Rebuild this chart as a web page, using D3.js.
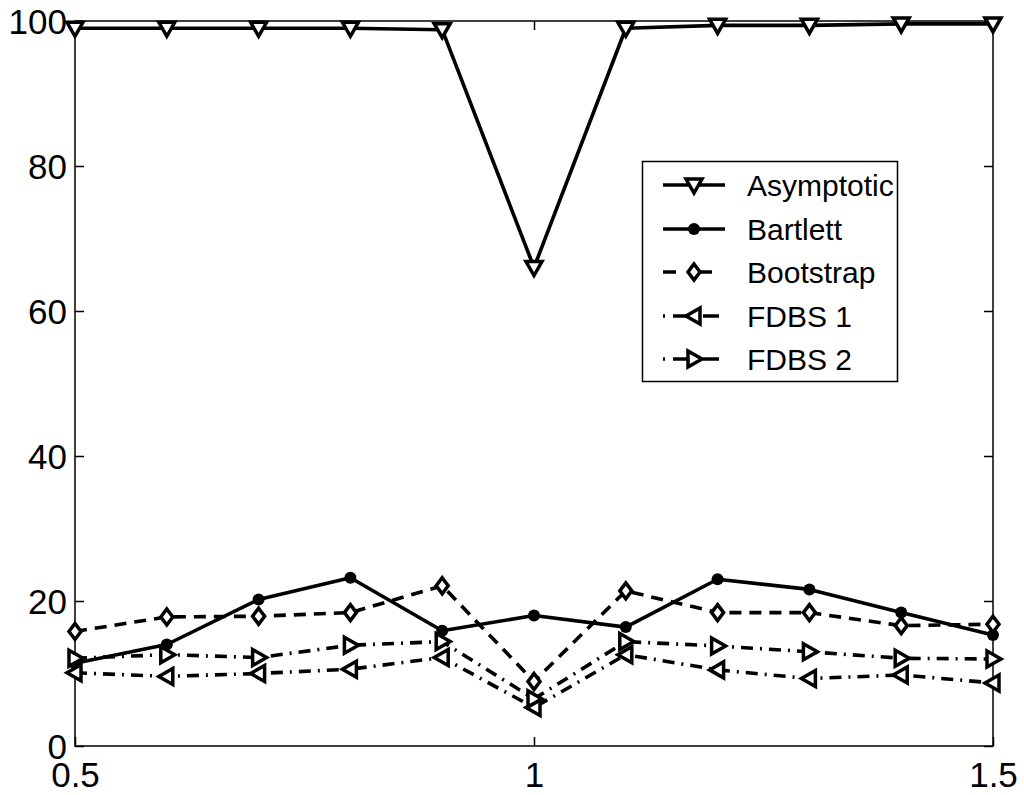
<!DOCTYPE html>
<html>
<head>
<meta charset="utf-8">
<script src="https://cdn.jsdelivr.net/npm/d3@7"></script>
<style>
html,body{margin:0;padding:0;background:#fff;}
svg{display:block;font-family:"Liberation Sans",Arial,Helvetica,sans-serif;}
</style>
</head>
<body>
<svg id="chart" width="1024" height="795"></svg>
<script>
const xValues = [0.5,0.6,0.7,0.8,0.9,1.0,1.1,1.2,1.3,1.4,1.5];
const asymptotic = [99.0,99.0,99.0,99.0,98.8,66.0,99.0,99.4,99.4,99.6,99.6];
const bartlett   = [11.4,14.0,20.2,23.2,15.9,18.0,16.4,23.0,21.6,18.4,15.3];
const bootstrap  = [15.8,17.8,17.9,18.4,22.1,8.9,21.4,18.4,18.4,16.6,16.8];
const fdbs1      = [10.1,9.6,10.0,10.6,12.2,5.3,12.6,10.5,9.3,9.8,8.7];
const fdbs2      = [12.1,12.6,12.2,13.9,14.4,6.5,14.4,13.8,13.0,12.1,12.0];
const seriesNames = ["Asymptotic","Bartlett","Bootstrap","FDBS 1","FDBS 2"];
const xTicks = [0.5,1,1.5];
const yTicks = [0,20,40,60,80,100];

const svg = d3.select("#chart");
const L = 75, R = 993, T = 21, B = 746;
const x = d3.scaleLinear().domain([0.5,1.5]).range([L,R]);
const y = d3.scaleLinear().domain([0,100]).range([B,T]);

const markers = {
  down:  "M-8,-6L8,-6L0,8Z",
  left:  "M6,-8L6,8L-8,0Z",
  right: "M-6,-8L-6,8L8,0Z",
  diamond: "M0,-8L6,0L0,8L-6,0Z"
};

const series = [
  {name: seriesNames[0], values: asymptotic, dash: null, marker: "down"},
  {name: seriesNames[1], values: bartlett, dash: null, marker: "circle"},
  {name: seriesNames[2], values: bootstrap, dash: "12,8", marker: "diamond"},
  {name: seriesNames[3], values: fdbs1, dash: "12,7,2,7", marker: "left"},
  {name: seriesNames[4], values: fdbs2, dash: "12,7,2,7", marker: "right"}
];

// frame
svg.append("rect").attr("x",L).attr("y",T).attr("width",R-L).attr("height",B-T)
  .attr("fill","none").attr("stroke","#000").attr("stroke-width",1.5);

// axes with inward ticks
const xAxisB = d3.axisBottom(x).tickValues(xTicks).tickSizeInner(-9).tickSizeOuter(0).tickPadding(14).tickFormat(d3.format("~g"));
const gx = svg.append("g").attr("transform",`translate(0,${B})`).call(xAxisB);
gx.select(".domain").remove();
gx.selectAll("text").attr("font-size",35).attr("fill","#000").attr("font-family","Liberation Sans, Arial, sans-serif").attr("dy","0.71em").attr("y",16);
const gxt = svg.append("g").attr("transform",`translate(0,${T})`).call(d3.axisTop(x).tickValues(xTicks).tickSizeInner(-9).tickSizeOuter(0).tickFormat(""));
gxt.select(".domain").remove();

const yAxisL = d3.axisLeft(y).tickValues(yTicks).tickSizeInner(-9).tickSizeOuter(0).tickPadding(8);
const gy = svg.append("g").attr("transform",`translate(${L},0)`).call(yAxisL);
gy.select(".domain").remove();
gy.selectAll("text").attr("font-size",35).attr("fill","#000").attr("font-family","Liberation Sans, Arial, sans-serif").attr("x",-8).attr("dy","0.36em");
const gyr = svg.append("g").attr("transform",`translate(${R},0)`).call(d3.axisRight(y).tickValues(yTicks).tickSizeInner(-9).tickSizeOuter(0).tickFormat(""));
gyr.select(".domain").remove();
svg.selectAll(".tick line").attr("stroke","#000").attr("stroke-width",1.5);

const line = d3.line().x((d,i)=>x(xValues[i])).y(d=>y(d));

function drawMarker(g, type){
  if(type==="circle"){
    g.append("circle").attr("r",6).attr("fill","#000").attr("stroke","none");
  } else {
    g.append("path").attr("d",markers[type]).attr("fill","#fff").attr("stroke","#000")
      .attr("stroke-width",3.5).attr("stroke-linejoin","miter");
  }
}

series.forEach(s=>{
  svg.append("path").datum(s.values).attr("d",line)
    .attr("fill","none").attr("stroke","#000").attr("stroke-width",3.6)
    .attr("stroke-dasharray",s.dash).attr("stroke-linejoin","round");
  s.values.forEach((v,i)=>{
    const g = svg.append("g").attr("transform",`translate(${x(xValues[i])},${y(v)})`);
    drawMarker(g, s.marker);
  });
});

// legend
const lg = svg.append("g");
lg.append("rect").attr("x",642.5).attr("y",161.5).attr("width",255).attr("height",220)
  .attr("fill","#fff").attr("stroke","#000").attr("stroke-width",1.5);
const rowY = [185,229,272,316,359];
series.forEach((s,i)=>{
  const yy = rowY[i];
  lg.append("line").attr("x1",663).attr("x2",725).attr("y1",yy).attr("y2",yy)
    .attr("stroke","#000").attr("stroke-width",3.6).attr("stroke-dasharray",s.dash ? (s.dash==="12,8" ? "13,23,13" : "2,8,16,14,16,8,2") : null);
  const g = lg.append("g").attr("transform",`translate(694,${yy})`);
  drawMarker(g, s.marker);
  lg.append("text").attr("x",747).attr("y",yy).attr("dy","0.36em")
    .attr("font-size",30).attr("fill","#000").text(s.name);
});
</script>
</body>
</html>
